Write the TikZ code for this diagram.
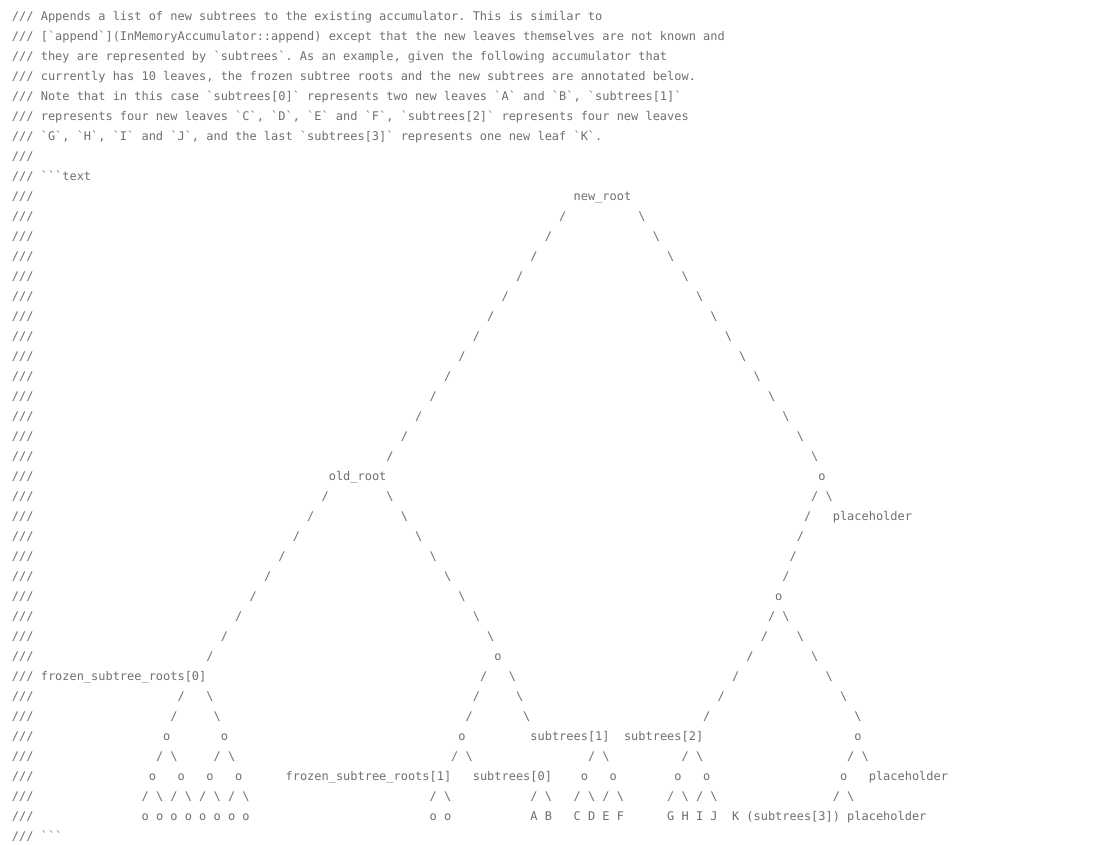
\documentclass[tikz,border=0pt]{standalone}
\usepackage{fontspec}
\setmonofont{DejaVu Sans Mono}
\definecolor{codegray}{RGB}{112,112,112}
\newcommand\bsl{\textbackslash}
\tikzset{tok/.style={anchor=base west,inner sep=0pt,outer sep=0pt,text=codegray,
  font=\ttfamily\fontsize{11.96}{14}\selectfont}}
% #1 line number, #2 column, #3 text
\newcommand\tk[3]{\node[tok] (t#1-#2) at ({12+7.2*#2},{-20.5-20*(#1-1)}) {#3};}
\begin{document}
\begin{tikzpicture}[x=1pt,y=1pt]
\fill[white] (0,0) rectangle (1100,-845);
\useasboundingbox (0,0) rectangle (1100,-845);
% comment prefix on every line
\foreach \l in {1,...,42} {\node[tok] (p\l) at (12,{-20.5-20*(\l-1)}) {///};}
\tk{1}{4}{Appends a list of new subtrees to the existing accumulator. This is similar to}
\tk{2}{4}{[`append`](InMemoryAccumulator::append) except that the new leaves themselves are not known and}
\tk{3}{4}{they are represented by `subtrees`. As an example, given the following accumulator that}
\tk{4}{4}{currently has 10 leaves, the frozen subtree roots and the new subtrees are annotated below.}
\tk{5}{4}{Note that in this case `subtrees[0]` represents two new leaves `A` and `B`, `subtrees[1]`}
\tk{6}{4}{represents four new leaves `C`, `D`, `E` and `F`, `subtrees[2]` represents four new leaves}
\tk{7}{4}{`G`, `H`, `I` and `J`, and the last `subtrees[3]` represents one new leaf `K`.}
\tk{9}{4}{```text}
% tree
\tk{10}{78}{new\_root}
\tk{11}{76}{/}\tk{11}{87}{\bsl}
\tk{12}{74}{/}\tk{12}{89}{\bsl}
\tk{13}{72}{/}\tk{13}{91}{\bsl}
\tk{14}{70}{/}\tk{14}{93}{\bsl}
\tk{15}{68}{/}\tk{15}{95}{\bsl}
\tk{16}{66}{/}\tk{16}{97}{\bsl}
\tk{17}{64}{/}\tk{17}{99}{\bsl}
\tk{18}{62}{/}\tk{18}{101}{\bsl}
\tk{19}{60}{/}\tk{19}{103}{\bsl}
\tk{20}{58}{/}\tk{20}{105}{\bsl}
\tk{21}{56}{/}\tk{21}{107}{\bsl}
\tk{22}{54}{/}\tk{22}{109}{\bsl}
\tk{23}{52}{/}\tk{23}{111}{\bsl}
\tk{24}{44}{old\_root}\tk{24}{112}{o}
\tk{25}{43}{/}\tk{25}{52}{\bsl}\tk{25}{111}{/}\tk{25}{113}{\bsl}
\tk{26}{41}{/}\tk{26}{54}{\bsl}\tk{26}{110}{/}\tk{26}{114}{placeholder}
\tk{27}{39}{/}\tk{27}{56}{\bsl}\tk{27}{109}{/}
\tk{28}{37}{/}\tk{28}{58}{\bsl}\tk{28}{108}{/}
\tk{29}{35}{/}\tk{29}{60}{\bsl}\tk{29}{107}{/}
\tk{30}{33}{/}\tk{30}{62}{\bsl}\tk{30}{106}{o}
\tk{31}{31}{/}\tk{31}{64}{\bsl}\tk{31}{105}{/}\tk{31}{107}{\bsl}
\tk{32}{29}{/}\tk{32}{66}{\bsl}\tk{32}{104}{/}\tk{32}{109}{\bsl}
\tk{33}{27}{/}\tk{33}{67}{o}\tk{33}{102}{/}\tk{33}{111}{\bsl}
\tk{34}{4}{frozen\_subtree\_roots[0]}\tk{34}{65}{/}\tk{34}{69}{\bsl}\tk{34}{100}{/}\tk{34}{113}{\bsl}
\tk{35}{23}{/}\tk{35}{27}{\bsl}\tk{35}{64}{/}\tk{35}{70}{\bsl}\tk{35}{98}{/}\tk{35}{115}{\bsl}
\tk{36}{22}{/}\tk{36}{28}{\bsl}\tk{36}{63}{/}\tk{36}{71}{\bsl}\tk{36}{96}{/}\tk{36}{117}{\bsl}
\tk{37}{21}{o}\tk{37}{29}{o}\tk{37}{62}{o}\tk{37}{72}{subtrees[1]}\tk{37}{85}{subtrees[2]}\tk{37}{117}{o}
\tk{38}{20}{/ \bsl}\tk{38}{28}{/ \bsl}\tk{38}{61}{/ \bsl}\tk{38}{80}{/ \bsl}\tk{38}{93}{/ \bsl}\tk{38}{116}{/ \bsl}
\tk{39}{19}{o   }\tk{39}{23}{o}\tk{39}{27}{o}\tk{39}{31}{o}\tk{39}{38}{frozen\_subtree\_roots[1]}\tk{39}{64}{subtrees[0]}
\tk{39}{79}{o}\tk{39}{83}{o}\tk{39}{92}{o}\tk{39}{96}{o}\tk{39}{115}{o}\tk{39}{119}{placeholder}
\tk{40}{18}{/ \bsl{} / \bsl{} / \bsl{} / \bsl}\tk{40}{58}{/ \bsl}\tk{40}{72}{/ \bsl}\tk{40}{78}{/ \bsl{} / \bsl}
\tk{40}{91}{/ \bsl{} / \bsl}\tk{40}{114}{/ \bsl}
\tk{41}{18}{o o o o o o o o}\tk{41}{58}{o o}\tk{41}{72}{A B}\tk{41}{78}{C D E F}\tk{41}{91}{G H I J}
\tk{41}{100}{K (subtrees[3]) placeholder}
\tk{42}{4}{```}
\end{tikzpicture}
\end{document}
